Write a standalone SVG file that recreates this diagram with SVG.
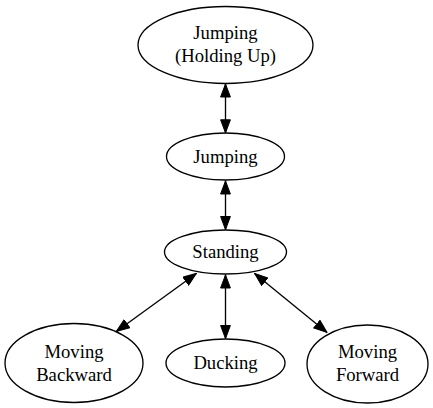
<svg xmlns="http://www.w3.org/2000/svg" width="433" height="408" viewBox="0 0 433 408">
<defs>
<style>
.node ellipse{fill:none;stroke:#000;stroke-width:1.33}
.node text{font-family:"Liberation Serif","Times New Roman",serif;font-size:18.67px;text-anchor:middle;fill:#000}
.edge line{stroke:#000;stroke-width:1.33;marker-start:url(#ah);marker-end:url(#ah)}
</style>
<marker id="ah" viewBox="0 0 14 11" refX="14" refY="5.5" markerWidth="14" markerHeight="11" markerUnits="userSpaceOnUse" orient="auto-start-reverse">
<path d="M0.5,0.6 L13.6,5.5 L0.5,10.4 Z" fill="#000" stroke="#000" stroke-width="1"/>
</marker>
</defs>
<rect width="433" height="408" fill="#fff"/>
<g id="edges" class="edge">
<line x1="225.5" y1="83.5" x2="225.5" y2="133.3"/>
<line x1="225.5" y1="180.5" x2="225.5" y2="230"/>
<line x1="196.7" y1="273.2" x2="116" y2="331.7"/>
<line x1="225.5" y1="274.5" x2="225.5" y2="339"/>
<line x1="254.3" y1="273.2" x2="327.3" y2="332.7"/>
</g>
<g id="jumping_holding_up" class="node">
<ellipse cx="225.5" cy="45" rx="87.5" ry="38.5"/>
<text x="225.5" y="39">Jumping</text>
<text x="225.5" y="62">(Holding Up)</text>
</g>
<g id="jumping" class="node">
<ellipse cx="225.5" cy="156.5" rx="59" ry="23.5"/>
<text x="225.5" y="162.5">Jumping</text>
</g>
<g id="standing" class="node">
<ellipse cx="225.5" cy="252" rx="61" ry="22"/>
<text x="225.5" y="258">Standing</text>
</g>
<g id="moving_backward" class="node">
<ellipse cx="74" cy="363" rx="69" ry="39.5"/>
<text x="74" y="358">Moving</text>
<text x="74" y="381">Backward</text>
</g>
<g id="ducking" class="node">
<ellipse cx="225.5" cy="363" rx="59.5" ry="24"/>
<text x="225.5" y="369">Ducking</text>
</g>
<g id="moving_forward" class="node">
<ellipse cx="367.5" cy="364" rx="60.5" ry="39"/>
<text x="367.5" y="358">Moving</text>
<text x="367.5" y="381">Forward</text>
</g>
</svg>
